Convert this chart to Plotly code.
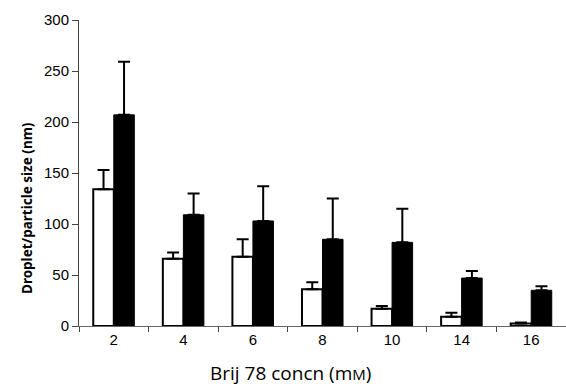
import plotly.graph_objects as go

categories = ["2", "4", "6", "8", "10", "14", "16"]
white_vals = [134, 66, 68, 36, 17, 9, 2.5]
white_err = [19, 6, 17, 7, 2.5, 4, 1]
black_vals = [207, 109, 103, 85, 82, 47, 35]
black_err = [52, 21, 34, 40, 33, 7, 4]
y_ticks = [0, 50, 100, 150, 200, 250, 300]

W, H = 566, 387
L, R, T, B = 79, 0, 20, 61

fig = go.Figure()
fig.add_trace(go.Bar(
    x=categories, y=white_vals,
    marker=dict(color="white", line=dict(color="black", width=2)),
    error_y=dict(type="data", symmetric=False, array=white_err,
                 arrayminus=[0] * len(white_err), color="black", thickness=2, width=6),
    showlegend=False,
))
fig.add_trace(go.Bar(
    x=categories, y=black_vals,
    marker=dict(color="black", line=dict(color="black", width=1)),
    error_y=dict(type="data", symmetric=False, array=black_err,
                 arrayminus=[0] * len(black_err), color="black", thickness=2, width=6),
    showlegend=False,
))

pw = W - L - R
ph = H - T - B


def px_to_paper(px, py):
    return (px - L) / pw, (H - B - py) / ph


ax_x, ax_y = px_to_paper(290, 373)
ay_x, ay_y = px_to_paper(27, 208)

fig.update_layout(
    width=W, height=H,
    margin=dict(l=L, r=R, t=T, b=B),
    paper_bgcolor="white", plot_bgcolor="white",
    barmode="group", bargap=0.41, bargroupgap=0,
    font=dict(family="Liberation Sans, Arial, sans-serif", size=15, color="black"),
    xaxis=dict(
        type="category", showline=True, linecolor="#666", linewidth=1,
        ticks="outside", tickson="boundaries", ticklen=5, tickcolor="#444",
        showgrid=False, zeroline=False, tickfont=dict(size=15),
    ),
    yaxis=dict(
        range=[0, 300], tickvals=y_ticks, showline=True, linecolor="#444", linewidth=1,
        ticks="outside", ticklen=6, tickcolor="#444", showgrid=False, zeroline=False,
        tickfont=dict(size=15),
    ),
    annotations=[
        dict(text="Brij 78 concn (m<span style='font-size:15px'>M</span>)",
             x=ax_x, y=ax_y, xref="paper", yref="paper", showarrow=False,
             font=dict(family="Open Sans, Noto Sans, sans-serif", size=19, color="black"),
             xanchor="center", yanchor="middle"),
        dict(text="<b>Droplet/particle size (nm)</b>",
             x=ay_x, y=ay_y, xref="paper", yref="paper", showarrow=False, textangle=-90,
             font=dict(family="Noto Sans, Open Sans, sans-serif", size=13.5, color="black"),
             xanchor="center", yanchor="middle"),
    ],
)

fig.write_html("out.html", config={"displayModeBar": False},
               post_script="document.body.style.margin='0';document.body.style.overflow='hidden';")
